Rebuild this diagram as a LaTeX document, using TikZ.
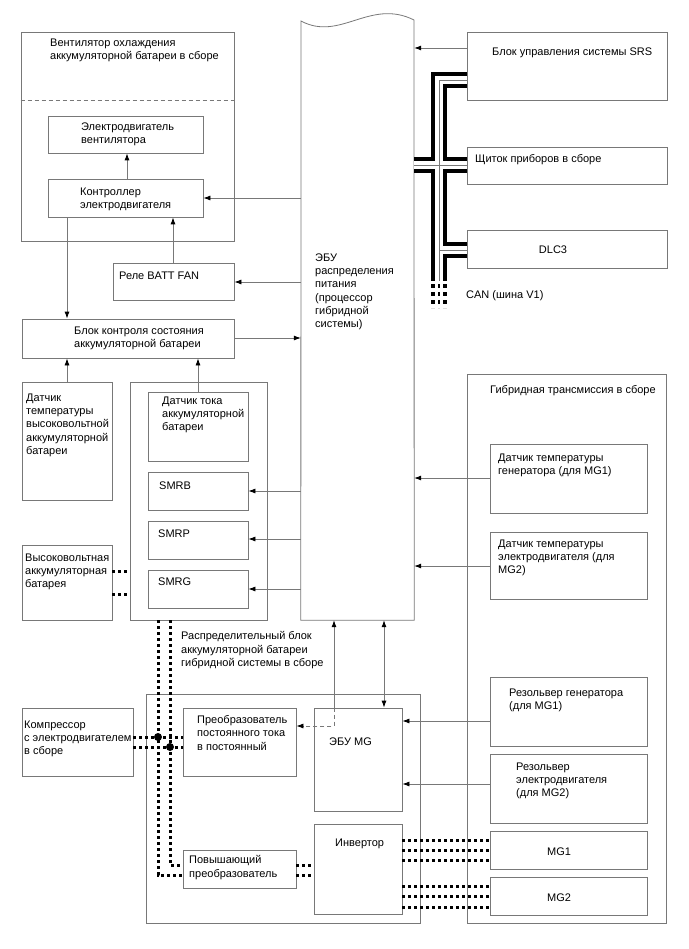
\documentclass[tikz,border=0pt]{standalone}
\usepackage{fontspec}
\setmainfont{Liberation Sans}
\usetikzlibrary{arrows.meta,fit}
\definecolor{ln}{RGB}{120,120,120}
\newcommand\canpaths[1]{%
  \draw[#1] (srs.west |- 0,80) -- (439,80) -- (439,281);
  \draw[#1] (ecu.east |- 0,165.5) -- (instr.west |- 0,165.5);
  \draw[#1] (439,250) -- (dlc.west |- 0,250);
}
\begin{document}
\begin{tikzpicture}[x=1pt,y=-1pt,
  box/.style={draw=ln, line width=0.8pt, inner sep=0pt, fill=white},
  txt/.style={anchor=north west, inner sep=0pt, align=left, font=\fontsize{11}{13.3}\selectfont, execute at begin node=\strut},
  arr/.style={draw=ln, line width=0.8pt, -{Latex[length=7pt,width=5pt,color=black]}},
  darr/.style={draw=ln, line width=0.8pt, {Latex[length=7pt,width=5pt,color=black]}-{Latex[length=7pt,width=5pt,color=black]}},
  hv/.style={draw=black, line width=3pt, dash pattern=on 3pt off 3pt},
  lnk/.style={draw=ln, line width=0.8pt}]
\useasboundingbox (0,0) rectangle (688,949);

% ---------- boxes ----------
\node[box, fit={(21,32) (234,241)}] (fan) {};
\draw[lnk, dash pattern=on 4pt off 3pt] (fan.west |- 0,100) -- (fan.east |- 0,100);
\node[box, fit={(48,116) (203,153)}] (motor) {};
\node[box, fit={(48,179) (203,217)}] (ctrl) {};
\node[box, fit={(113,263) (234,300)}] (relay) {};
\node[box, fit={(22,319) (234,358)}] (bms) {};
\node[box, fit={(22,382) (112,500)}] (tsens) {};
\node[box, fit={(130,382) (267,620)}] (dist) {};
\node[box, fit={(148,392) (248,461)}] (isens) {};
\node[box, fit={(148,472) (248,510)}] (smrb) {};
\node[box, fit={(148,521) (248,559)}] (smrp) {};
\node[box, fit={(148,570) (248,608)}] (smrg) {};
\node[box, fit={(22,545) (112,620)}] (hvb) {};
\node[inner sep=0pt, fit={(301,21) (414,620)}] (ecu) {};
\draw[lnk] (ecu.south west) -- (301,21) .. controls (340,42) and (370,-2) .. (414,20) -- (ecu.south east) -- cycle;
\node[box, fit={(467,32) (667,100)}] (srs) {};
\node[box, fit={(467,147) (667,184)}] (instr) {};
\node[box, fit={(467,230) (667,268)}] (dlc) {};
\node[box, fit={(467,374) (666,923)}] (trans) {};
\node[box, fit={(490,444) (647,513)}] (gtemp) {};
\node[box, fit={(490,532) (647,599)}] (mtemp) {};
\node[box, fit={(490,677) (647,746)}] (rgen) {};
\node[box, fit={(490,754) (647,823)}] (rmot) {};
\node[box, fit={(490,831) (647,869)}] (mg1) {};
\node[box, fit={(490,877) (647,915)}] (mg2) {};
\node[box, fit={(146,694) (420,923)}] (pcu) {};
\node[box, fit={(22,708) (133,776)}] (comp) {};
\node[box, fit={(183,708) (296,776)}] (dcdc) {};
\node[box, fit={(314,708) (402,811)}] (mgecu) {};
\node[box, fit={(314,824) (402,914)}] (inv) {};
\node[box, fit={(183,850) (296,888)}] (boost) {};

% ---------- texts ----------
\node[txt] (tfan) at (50,38.4) {Вентилятор охлаждения\\аккумуляторной батареи в сборе};
\node[txt] (tmotor) at (81,122.4) {Электродвигатель\\вентилятора};
\node[txt] (tctrl) at (80,187.4) {Контроллер\\электродвигателя};
\node[txt] (trelay) at (119,270.4) {Реле BATT FAN};
\node[txt] (tbms) at (74,326.4) {Блок контроля состояния\\аккумуляторной батареи};
\node[txt] (ttsens) at (26,393.4) {Датчик\\температуры\\высоковольтной\\аккумуляторной\\батареи};
\node[txt] (tisens) at (162,396.4) {Датчик тока\\аккумуляторной\\батареи};
\node[txt] (tsmrb) at (159,480.4) {SMRB};
\node[txt] (tsmrp) at (158,528.4) {SMRP};
\node[txt] (tsmrg) at (158,576.4) {SMRG};
\node[txt] (thvb) at (25,553.4) {Высоковольтная\\аккумуляторная\\батарея};
\node[txt] (tecu) at (315,253.4) {ЭБУ\\распределения\\питания\\(процессор\\гибридной\\системы)};
\node[txt] (tsrs) at (492,46.4) {Блок управления системы SRS};
\node[txt] (tinstr) at (475,153.4) {Щиток приборов в сборе};
\node[txt, anchor=north] (tdlc) at (553,244.4) {DLC3};
\node[txt] (tcan) at (466,289.4) {CAN (шина V1)};
\node[txt] (ttrans) at (490,384.4) {Гибридная трансмиссия в сборе};
\node[txt] (tgtemp) at (498,453.4) {Датчик температуры\\генератора (для MG1)};
\node[txt] (tmtemp) at (498,539.4) {Датчик температуры\\электродвигателя (для\\MG2)};
\node[txt] (tdist) at (181,631.4) {Распределительный блок\\аккумуляторной батареи\\гибридной системы в сборе};
\node[txt] (tcomp) at (24,720.4) {Компрессор\\с электродвигателем\\в сборе};
\node[txt] (tdcdc) at (197,715.4) {Преобразователь\\постоянного тока\\в постоянный};
\node[txt] (tmgecu) at (329,736.4) {ЭБУ MG};
\node[txt] (tinv) at (335,837.4) {Инвертор};
\node[txt] (tboost) at (189,855.4) {Повышающий\\преобразователь};
\node[txt] (trgen) at (509,688.4) {Резольвер генератора\\(для MG1)};
\node[txt] (trmot) at (516,762.4) {Резольвер\\электродвигателя\\(для MG2)};
\node[txt, anchor=north] (tmg1) at (559,846.4) {MG1};
\node[txt, anchor=north] (tmg2) at (559,892.4) {MG2};

% ---------- signal connectors ----------
\draw[arr] (ctrl.north -| 127,0) -- (motor.south -| 127,0);
\draw[arr] (ecu.west |- 0,198) -- (ctrl.east |- 0,198);
\draw[arr] (relay.north -| 173,0) -- (ctrl.south -| 173,0);
\draw[arr] (ecu.west |- 0,282) -- (relay.east |- 0,282);
\draw[arr] (ctrl.south -| 67,0) -- (bms.north -| 67,0);
\draw[arr] (bms.east |- 0,338) -- (ecu.west |- 0,338);
\draw[arr] (tsens.north -| 67,0) -- (bms.south -| 67,0);
\draw[arr] (isens.north -| 198,0) -- (bms.south -| 198,0);
\draw[arr] (ecu.west |- 0,491) -- (smrb.east |- 0,491);
\draw[arr] (ecu.west |- 0,539) -- (smrp.east |- 0,539);
\draw[arr] (ecu.west |- 0,589) -- (smrg.east |- 0,589);
\draw[arr] (srs.west |- 0,48) -- (ecu.east |- 0,48);
\draw[arr] (gtemp.west |- 0,478) -- (ecu.east |- 0,478);
\draw[arr] (mtemp.west |- 0,566) -- (ecu.east |- 0,566);
\draw[arr] (mgecu.north -| 334,0) -- (ecu.south -| 334,0);
\draw[darr] (ecu.south -| 384,0) -- (mgecu.north -| 384,0);
\coordinate (bend) at (334,726);
\draw[arr, dash pattern=on 4pt off 3pt] (mgecu.north -| bend) -- (bend) -- (dcdc.east |- bend);
\draw[arr] (rgen.west |- 0,721) -- (mgecu.east |- 0,721);
\draw[arr] (rmot.west |- 0,784) -- (mgecu.east |- 0,784);

% ---------- high-voltage lines ----------
\draw[hv] (hvb.east |- 0,571) -- (dist.west |- 0,571);
\draw[hv] (hvb.east |- 0,594) -- (dist.west |- 0,594);
\draw[hv] (dist.south -| 158,0) -- (158,875) -- (boost.west |- 0,875);
\draw[hv] (dist.south -| 170,0) -- (170,865) -- (boost.west |- 0,865);
\draw[hv] (comp.east |- 0,737) -- (dcdc.west |- 0,737);
\draw[hv] (comp.east |- 0,747) -- (dcdc.west |- 0,747);
\fill (158,737) circle (4);
\fill (170,747) circle (4);
\draw[hv] (boost.east |- 0,865) -- (inv.west |- 0,865);
\draw[hv] (boost.east |- 0,875) -- (inv.west |- 0,875);
\foreach \yy in {840,850,860} \draw[hv] (inv.east |- 0,\yy) -- (mg1.west |- 0,\yy);
\foreach \yy in {886,896,907} \draw[hv] (inv.east |- 0,\yy) -- (mg2.west |- 0,\yy);

% ---------- CAN bus ----------
\begin{scope}[line join=miter]
\canpaths{line width=16pt, black}
\canpaths{line width=8pt, white}
\canpaths{line width=0.7pt, ln}
\end{scope}
\draw[black, line width=4pt, dash pattern=on 4pt off 4pt] (433,284) -- (433,308);
\draw[black, line width=4pt, dash pattern=on 4pt off 4pt] (445,284) -- (445,308);
\draw[black, line width=2pt, dash pattern=on 4pt off 4pt] (439,284) -- (439,308);
\end{tikzpicture}
\end{document}
